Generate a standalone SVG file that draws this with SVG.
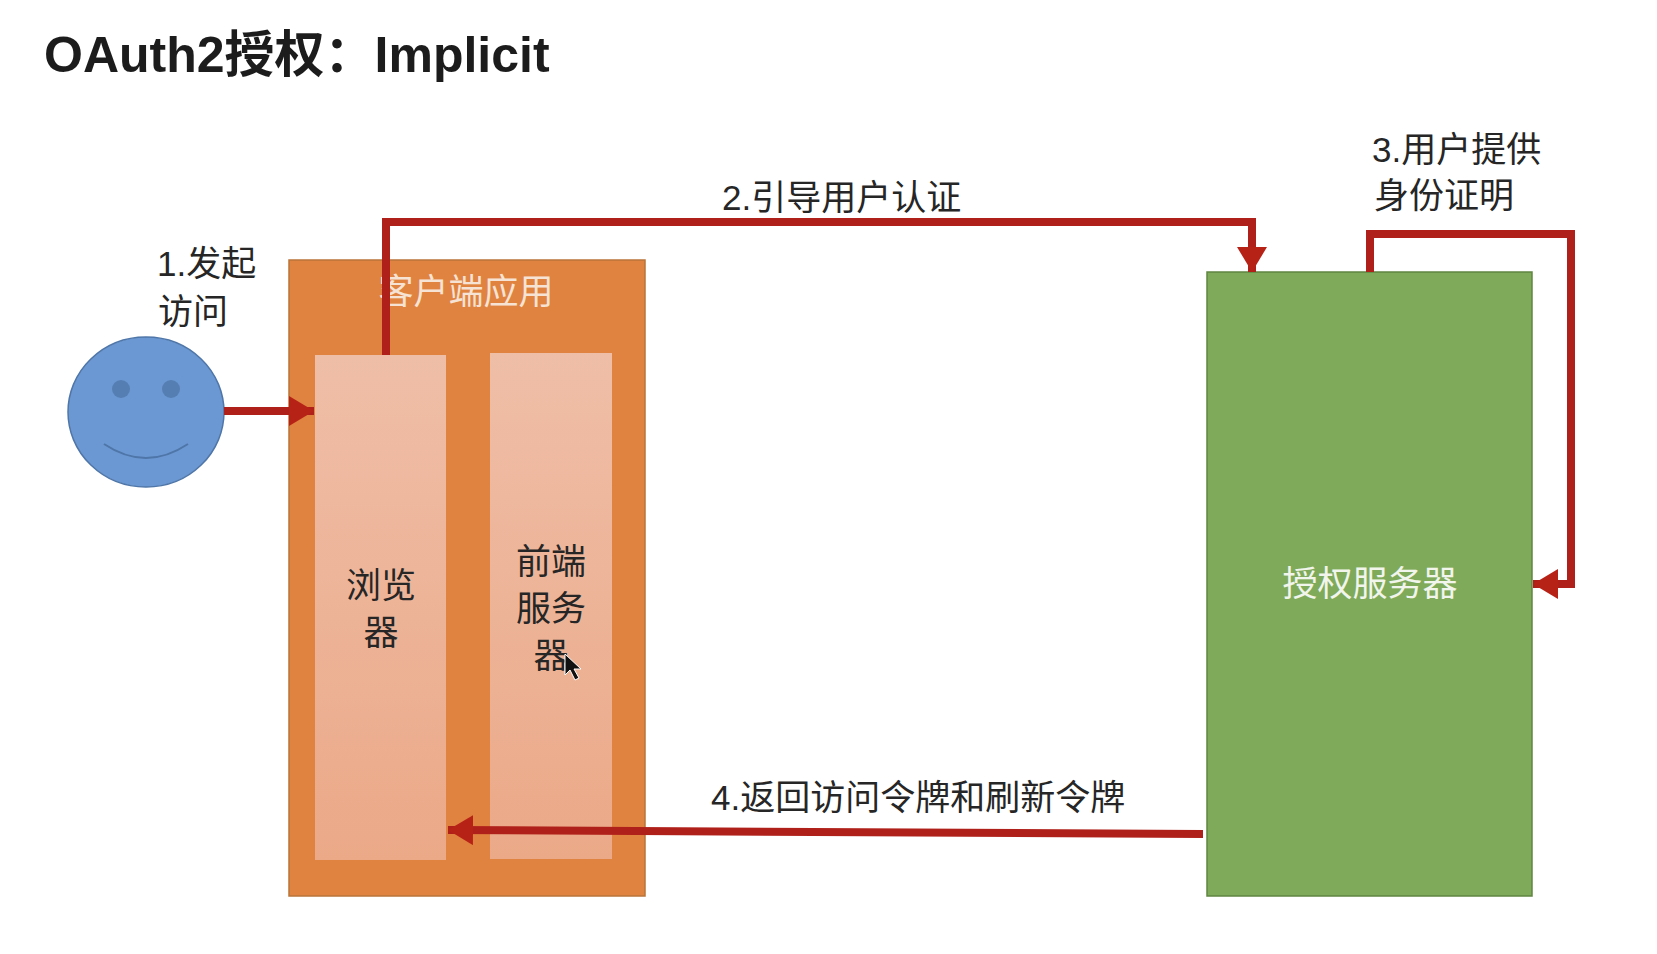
<svg xmlns="http://www.w3.org/2000/svg" width="1657" height="954" viewBox="0 0 1657 954">
<defs>
<marker id="ah" markerUnits="userSpaceOnUse" markerWidth="30" markerHeight="30" refX="25" refY="15" orient="auto"><path d="M0 0L25 15L0 30Z" fill="#b72216"/></marker>
<linearGradient id="pale" x1="0" y1="0" x2="0" y2="1"><stop offset="0" stop-color="#efbea7"/><stop offset="1" stop-color="#eba988"/></linearGradient>
</defs>
<style>
text{font-family:"Liberation Sans","Noto Sans CJK SC",sans-serif;font-size:35px;fill:#262626}
.w{fill:#f6e3d3}
.g{fill:#f1f5ec}
.c{text-anchor:middle}
.con{fill:none;stroke:#b0201a;stroke-width:8}
</style>
<rect width="1657" height="954" fill="#fff"/>
<text id="title" x="44" y="72" style="font-size:50px;font-weight:700;fill:#1c1c1c">OAuth2授权：Implicit</text>
<g id="user">
<ellipse cx="146" cy="412" rx="78" ry="75" fill="#6b98d2" stroke="#4f76a8" stroke-width="1.5"/>
<ellipse cx="121" cy="389" rx="9" ry="9" fill="#557fb3"/>
<ellipse cx="171" cy="389" rx="9" ry="9" fill="#557fb3"/>
<path d="M104 444Q146 472 188 444" fill="none" stroke="#4f76a8" stroke-width="2"/>
<text x="157" y="276">1.发起</text>
<text x="158" y="324">访问</text>
</g>
<g id="client">
<rect x="289" y="260" width="356" height="636" fill="#e08240" stroke="#b9743a" stroke-width="1.5"/>
<text class="c w" x="466" y="304">客户端应用</text>
</g>
<g id="browser">
<rect x="315" y="355" width="131" height="505" fill="url(#pale)"/>
<text class="c" x="381" y="598">浏览</text>
<text class="c" x="381" y="645">器</text>
</g>
<g id="frontend">
<rect x="490" y="353" width="122" height="506" fill="url(#pale)"/>
<text class="c" x="551" y="574">前端</text>
<text class="c" x="551" y="621">服务</text>
<text class="c" x="551" y="668">器</text>
<path d="M565 654l0 21l5-5l5 10l4-2l-5-9l7 0Z" fill="#111" stroke="#fff" stroke-width="1"/>
</g>
<g id="auth">
<rect x="1207" y="272" width="325" height="624" fill="#7faa5a" stroke="#5f8542" stroke-width="1.5"/>
<text class="c g" x="1370" y="596">授权服务器</text>
</g>
<g id="connectors">
<path class="con" d="M224 411H314" marker-end="url(#ah)"/>
<path class="con" d="M386 355V222H1252V272" marker-end="url(#ah)"/>
<path class="con" d="M1370 272V234H1571V584H1533" marker-end="url(#ah)"/>
<path class="con" d="M1203 834L448 830" marker-end="url(#ah)"/>
</g>
<text id="l2" x="722" y="210">2.引导用户认证</text>
<text id="l3a" x="1372" y="162">3.用户提供</text>
<text id="l3b" x="1374" y="208">身份证明</text>
<text id="l4" x="711" y="810">4.返回访问令牌和刷新令牌</text>
</svg>
